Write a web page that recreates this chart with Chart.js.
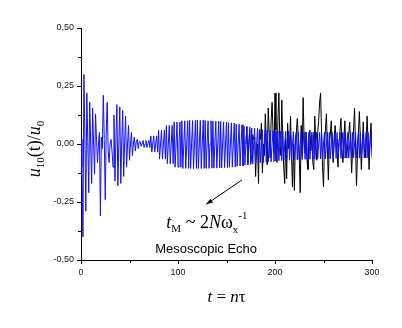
<!DOCTYPE html>
<html>
<head>
<meta charset="UTF-8">
<title>Mesoscopic echo</title>
<script src="https://cdn.jsdelivr.net/npm/chart.js"></script>
<style>
  body { margin: 0; background: #fff; }
  canvas { display: block; }
</style>
</head>
<body>
<canvas id="chart" width="402" height="328"></canvas>
<script>
// u10(t)/u0, one value per step n = 0..300 (blue curve)
const blueU = [
  0.02, -0.10, -0.40, 0.30, 0.02, -0.29, 0.22, 0.01, -0.21, 0.18, 0.00, -0.17, 0.155, 0.00, -0.13, 0.13,
  0.02, -0.08, 0.00, 0.05, -0.31, 0.03, -0.02, 0.21, 0.02, -0.24, 0.05, 0.18, -0.03, -0.08, 0.00, 0.02,
  -0.03, -0.10, 0.125, -0.16, 0.02, 0.17, -0.18, 0.00, 0.16, -0.17, 0.01, 0.145, -0.14, 0.01, 0.12, -0.10,
  0.00, 0.08, -0.07, 0.00, 0.05, -0.05, 0.00, 0.03, -0.03, 0.01, 0.02, -0.02, 0.01, 0.01, -0.01, 0.00,
  0.015, -0.015, 0, 0.015, -0.015, 0, 0.015, -0.015,
  0.035, -0.035, 0, 0.035, -0.035, 0, 0.035, -0.035,
  0.06, -0.065, 0, 0.06, -0.065, 0, 0.06, -0.065,
  0.08, -0.085, 0, 0.08, -0.085, 0, 0.08, -0.085,
  0.095, -0.10, 0, 0.095, -0.10, 0, 0.095, -0.10,
  0.10, -0.105, 0, 0.10, -0.105, 0, 0.10, -0.105,
  0.102, -0.105, 0, 0.101, -0.106, 0, 0.102, -0.105,
  0.103, -0.106, 0, 0.102, -0.106, 0, 0.103, -0.105,
  0.101, -0.105, 0, 0.10, -0.105, 0, 0.10, -0.104,
  0.099, -0.104, 0, 0.098, -0.104, 0, 0.098, -0.103,
  0.097, -0.103, 0, 0.096, -0.102, 0, 0.095, -0.102,
  0.092, -0.10, 0, 0.091, -0.10, 0, 0.09, -0.099,
  0.086, -0.096, 0, 0.085, -0.095, 0, 0.083, -0.094,
  0.077, -0.091, 0, 0.075, -0.09, 0, 0.073, -0.089,
  0.069, -0.086, 0, 0.068, -0.085, 0, 0.067, -0.084,
  0.063, -0.081, 0, 0.062, -0.08, 0, 0.061, -0.079,
  0.059, -0.078, 0, 0.058, -0.077, 0, 0.058, -0.076,
  0.056, -0.073, 0, 0.055, -0.072, 0, 0.055, -0.072,
  0.055, -0.071, 0, 0.054, -0.07, 0, 0.054, -0.07,
  0.053, -0.069, 0, 0.053, -0.068, 0, 0.052, -0.068,
  0.052, -0.067, 0, 0.052, -0.067, 0, 0.052, -0.066,
  0.052, -0.066, 0, 0.051, -0.066, 0, 0.051, -0.065,
  0.051, -0.065, 0, 0.051, -0.065, 0, 0.05, -0.064,
  0.05, -0.064, 0, 0.05, -0.064, 0, 0.05, -0.063,
  0.05, -0.063, 0, 0.05, -0.063, 0, 0.05, -0.062,
  0.05, -0.062, 0, 0.05, -0.062, 0, 0.05, -0.061,
  0.05, -0.061, 0, 0.05, -0.061, 0, 0.05, -0.06,
  0.05, -0.06, 0, 0.05, -0.06, 0, 0.05, -0.06,
  0.05, -0.06, 0, 0.05, -0.06, 0, 0.05, -0.06,
  0.05, -0.06, 0, 0.05, -0.06
];

// black curve, starts at n = 170 (it lies under the blue one before that)
const blackStart = 170;
const blackU = [
  0, 0.075, -0.09, 0.00, 0.06, -0.08, -0.05, 0.04, 0.02, 0.03,
  -0.14, -0.02, 0.00, -0.17, 0.06, 0.02, 0.09, -0.125, 0.00, -0.05,
  0.13, 0.02, -0.09, 0.155, 0.05, -0.06, 0.10, 0.18, 0.05, -0.04,
  0.22, 0.06, -0.08, 0.10, 0.22, 0.00, -0.05, 0.19, 0.02, -0.10,
  -0.17, 0.02, -0.15, 0.09, -0.02, 0.00, 0.12, -0.05, -0.185, 0.00,
  -0.20, 0.02, 0.05, 0.11, 0.03, -0.06, -0.21, 0.08, -0.05, 0.20,
  0.02, -0.04, 0.05, -0.07, -0.11, 0.02, 0.06, -0.03, 0.04, -0.08,
  -0.11, 0.12, 0.00, -0.07, 0.05, 0.10, 0.18, 0.22, 0.05, -0.10,
  -0.185, 0.00, 0.06, 0.13, -0.02, -0.155, 0.00, 0.04, 0.10, -0.02,
  -0.08, 0.03, 0.08, 0.00, -0.04, -0.10, 0.02, 0.06, 0.11, -0.02,
  -0.08, 0.02, 0.10, 0.00, -0.06, 0.00, 0.04, 0.095, 0.00, -0.125,
  -0.02, 0.06, 0.155, 0.00, -0.18, -0.05, 0.05, 0.14, 0.02, -0.11,
  0.00, 0.095, -0.02, -0.06, 0.02, 0.12, 0.00, -0.11, 0.02, 0.09,
  -0.02
];

const xMajor = [0, 100, 200, 300];
const yMajor = [-0.5, -0.25, 0, 0.25, 0.5];

const bluePts = blueU.map((v, i) => ({ x: i, y: v }));
const blackPts = blackU.map((v, i) => ({ x: blackStart + i, y: v }));

const serif = '"Liberation Serif", "Times New Roman", serif';
const sans = '"Liberation Sans", Arial, sans-serif';

function isMajor(v, list) {
  return list.some(m => Math.abs(m - v) < 1e-6);
}

// draws text made of pieces with their own font / vertical shift
function rich(ctx, parts, x, y, align) {
  let w = 0;
  parts.forEach(p => { ctx.font = p.f; w += ctx.measureText(p.t).width; });
  let cx = align === 'center' ? x - w / 2 : x;
  ctx.textAlign = 'left';
  ctx.textBaseline = 'alphabetic';
  parts.forEach(p => {
    ctx.font = p.f;
    ctx.fillText(p.t, cx, y + (p.dy || 0));
    cx += ctx.measureText(p.t).width;
  });
}

const extras = {
  id: 'extras',
  afterDraw(chart) {
    const ctx = chart.ctx;
    const xs = chart.scales.x, ys = chart.scales.y;
    const area = chart.chartArea;
    ctx.save();
    ctx.fillStyle = '#000';
    ctx.strokeStyle = '#000';
    ctx.lineWidth = 1;

    // minor ticks
    ctx.beginPath();
    [50, 150, 250].forEach(v => {
      const px = Math.round(xs.getPixelForValue(v)) + 0.5;
      ctx.moveTo(px, area.bottom); ctx.lineTo(px, area.bottom + 3);
    });
    [-0.375, -0.125, 0.125, 0.375].forEach(v => {
      const py = Math.round(ys.getPixelForValue(v)) + 0.5;
      ctx.moveTo(area.left, py); ctx.lineTo(area.left - 3, py);
    });
    ctx.stroke();

    // y title
    ctx.save();
    ctx.translate(40, 149);
    ctx.rotate(-Math.PI / 2);
    rich(ctx, [
      { t: 'u', f: 'italic 18px ' + serif },
      { t: '10', f: '11px ' + serif, dy: 4 },
      { t: '(t)/', f: '18px ' + serif },
      { t: 'u', f: 'italic 18px ' + serif },
      { t: '0', f: '11px ' + serif, dy: 4 }
    ], 0, 0, 'center');
    ctx.restore();

    // x title
    rich(ctx, [
      { t: 't', f: 'italic 17px ' + serif },
      { t: ' = ', f: '17px ' + serif },
      { t: 'n', f: 'italic 17px ' + serif },
      { t: 'τ', f: '17px ' + serif }
    ], (area.left + area.right) / 2, 302, 'center');

    // annotation arrow
    const x0 = xs.getPixelForValue(166), y0 = ys.getPixelForValue(-0.155);
    const x1 = xs.getPixelForValue(129), y1 = ys.getPixelForValue(-0.26);
    ctx.beginPath();
    ctx.moveTo(x0, y0); ctx.lineTo(x1, y1);
    ctx.stroke();
    const a = Math.atan2(y1 - y0, x1 - x0);
    ctx.beginPath();
    ctx.moveTo(x1, y1);
    ctx.lineTo(x1 - 7 * Math.cos(a - 0.35), y1 - 7 * Math.sin(a - 0.35));
    ctx.lineTo(x1 - 7 * Math.cos(a + 0.35), y1 - 7 * Math.sin(a + 0.35));
    ctx.closePath();
    ctx.fill();

    rich(ctx, [
      { t: 't', f: 'italic 18px ' + serif },
      { t: 'M', f: '11px ' + serif, dy: 4 },
      { t: ' ~ 2', f: '18px ' + serif },
      { t: 'N', f: 'italic 18px ' + serif },
      { t: 'ω', f: '18px ' + serif },
      { t: 'x', f: '11px ' + serif, dy: 5 },
      { t: '-1', f: '11px ' + serif, dy: -9 }
    ], xs.getPixelForValue(88), ys.getPixelForValue(-0.36), 'left');

    ctx.font = '13px ' + sans;
    ctx.textAlign = 'center';
    ctx.fillText('Mesoscopic Echo', xs.getPixelForValue(129), ys.getPixelForValue(-0.468));
    ctx.restore();
  }
};

new Chart(document.getElementById('chart'), {
  type: 'line',
  data: {
    datasets: [
      { data: bluePts, borderColor: '#1010ff', borderWidth: 1, pointRadius: 0, tension: 0 },
      { data: blackPts, borderColor: '#000', borderWidth: 1, pointRadius: 0, tension: 0 }
    ]
  },
  options: {
    responsive: false,
    animation: false,
    devicePixelRatio: 1,
    layout: { padding: { top: 28, right: 30, left: 0, bottom: 0 } },
    plugins: { legend: { display: false }, tooltip: { enabled: false } },
    scales: {
      x: {
        type: 'linear', min: 0, max: 300,
        afterFit: s => { s.height = 68; },
        border: { display: true, color: '#000', width: 1 },
        grid: {
          drawOnChartArea: false, drawTicks: true, tickLength: 4,
          color: c => isMajor(c.tick.value, xMajor) ? '#000' : 'rgba(0,0,0,0)'
        },
        ticks: {
          stepSize: 50, autoSkip: false, maxRotation: 0, padding: 3,
          color: '#111', font: { family: sans, size: 9 },
          callback: v => isMajor(v, xMajor) ? String(v) : ''
        }
      },
      y: {
        min: -0.5, max: 0.5,
        afterFit: s => { s.width = 81; },
        border: { display: true, color: '#000', width: 1 },
        grid: {
          drawOnChartArea: false, drawTicks: true, tickLength: 4,
          color: c => isMajor(c.tick.value, yMajor) ? '#000' : 'rgba(0,0,0,0)'
        },
        ticks: {
          stepSize: 0.125, autoSkip: false, padding: 3,
          color: '#111', font: { family: sans, size: 9 },
          callback: v => isMajor(v, yMajor) ? v.toFixed(2).replace('.', ',') : ''
        }
      }
    }
  },
  plugins: [extras]
});
</script>
</body>
</html>
